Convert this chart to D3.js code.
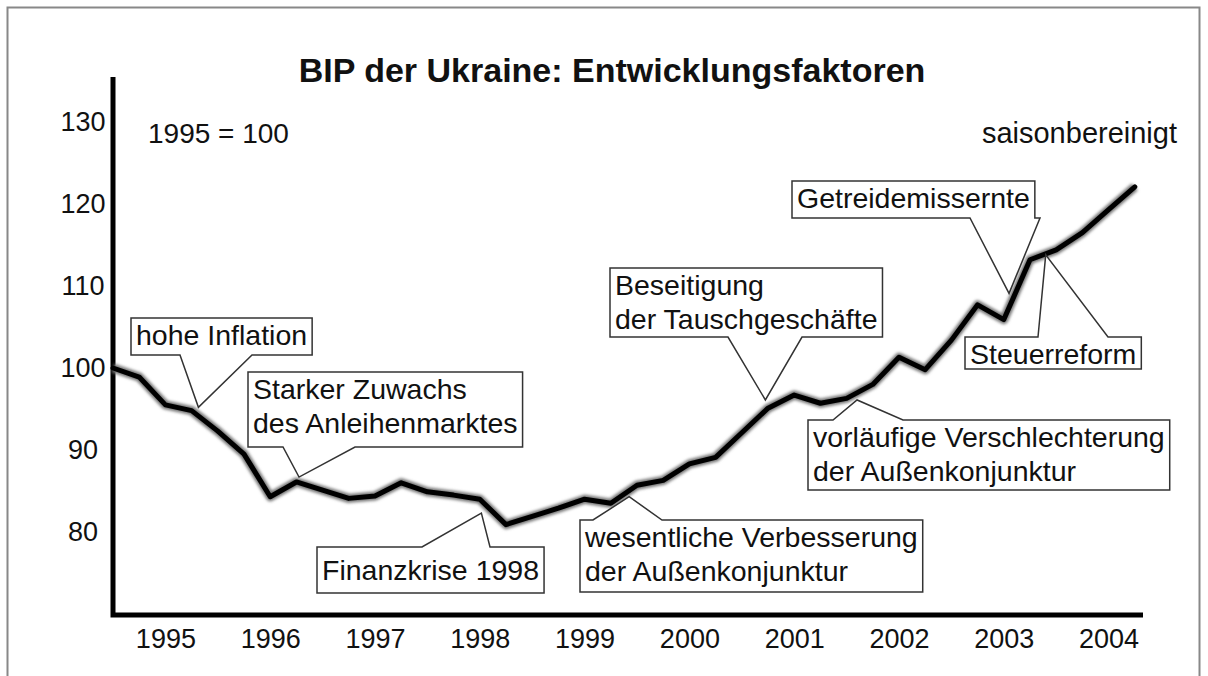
<!DOCTYPE html>
<html>
<head>
<meta charset="utf-8">
<script src="https://cdn.jsdelivr.net/npm/d3@7"></script>
<style>
  body { margin: 0; background: #fff; }
  svg text { font-family: "Liberation Sans", Arial, sans-serif; fill: #111; }
</style>
</head>
<body>
<svg id="chart" width="1208" height="676"></svg>
<script>
// BIP der Ukraine, quarterly, 1995 = 100
const years = ["1995", "1996", "1997", "1998", "1999", "2000", "2001", "2002", "2003", "2004"];
const gdpIndex = [
    100.0, 98.9, 95.5, 94.8,
    92.3, 89.5, 84.3, 86.1,
    85.1, 84.1, 84.4, 86.0,
    84.9, 84.5, 84.0, 80.9,
    81.9, 82.9, 84.0, 83.5,
    85.7, 86.3, 88.3, 89.1,
    92.1, 95.1, 96.7, 95.7,
    96.3, 98.0, 101.3, 99.8,
    103.4, 107.7, 105.9, 113.2,
    114.4, 116.5, 119.3, 122.1
];
const yTicks = [80, 90, 100, 110, 120, 130];

// annotation texts and where they point (quarter index, index value)
const noteTexts = [
    ["hohe Inflation"],
    ["Starker Zuwachs", "des Anleihenmarktes"],
    ["Finanzkrise 1998"],
    ["wesentliche Verbesserung", "der Außenkonjunktur"],
    ["Beseitigung", "der Tauschgeschäfte"],
    ["vorläufige Verschlechterung", "der Außenkonjunktur"],
    ["Getreidemissernte"],
    ["Steuerreform"]
];
const noteTargets = [
    [3.26, 95.2], [7.1, 86.7], [14.06, 82.3], [19.7, 84.3],
    [24.9, 96.1], [28.4, 96.1], [34.2, 109.1], [35.6, 113.8]
];

// box layout: left, top, height, side of the wedge, wedge base x0/x1
const noteBoxes = [
    {x: 131, y: 318, h: 37, side: "bottom", b0: 180, b1: 252},
    {x: 248, y: 372, h: 75, side: "bottom", b0: 283, b1: 355},
    {x: 317, y: 547, h: 46, side: "top", b0: 422, b1: 490},
    {x: 580, y: 520, h: 72, side: "top", b0: 593, b1: 662},
    {x: 610, y: 268, h: 69, side: "bottom", b0: 728, b1: 802},
    {x: 808, y: 420, h: 70, side: "top", b0: 833, b1: 903},
    {x: 792, y: 181, h: 37, side: "bottom", b0: 970, b1: 1040},
    {x: 965, y: 337, h: 32, side: "top", b0: 1038, b1: 1108}
];

const svg = d3.select("#chart");

// outer frame
svg.append("rect")
    .attr("x", 7.5).attr("y", 7.5)
    .attr("width", 1192).attr("height", 700)
    .attr("fill", "none").attr("stroke", "#888").attr("stroke-width", 2);

const x = d3.scaleLinear().domain([0, 40]).range([113, 113 + 40 * 26.2]);
const y = d3.scaleLinear().domain([80, 130]).range([532, 122]);

const x0 = 113, yBase = 615;

// title
svg.append("text")
    .attr("x", 612).attr("y", 82)
    .attr("text-anchor", "middle")
    .attr("font-size", 34).attr("font-weight", "bold")
    .text("BIP der Ukraine: Entwicklungsfaktoren");

svg.append("text").attr("x", 148).attr("y", 143)
    .attr("font-size", 28).text("1995 = 100");
svg.append("text").attr("x", 1177).attr("y", 143)
    .attr("text-anchor", "end")
    .attr("font-size", 29).text("saisonbereinigt");

// y axis labels
const yAxis = svg.append("g")
    .attr("transform", "translate(" + x0 + ",0)")
    .call(d3.axisLeft(y).tickValues(yTicks).tickSize(0).tickFormat(d3.format("d")));
yAxis.select(".domain").remove();
yAxis.selectAll("text")
    .attr("x", -30).attr("text-anchor", "middle")
    .attr("font-size", 27).attr("font-family", null)
    .attr("fill", "#111");

// x axis labels at mid-year
const xAxis = svg.append("g")
    .attr("transform", "translate(0," + yBase + ")")
    .call(d3.axisBottom(x).tickValues(years.map((d, i) => i * 4 + 2))
        .tickSize(0).tickFormat((d, i) => years[i]));
xAxis.select(".domain").remove();
xAxis.selectAll("text")
    .attr("y", 33).attr("dy", 0)
    .attr("font-size", 27).attr("font-family", null)
    .attr("fill", "#111");

// axis lines
svg.append("path")
    .attr("d", "M" + x0 + ",77 L" + x0 + "," + yBase + " L1143," + yBase)
    .attr("fill", "none").attr("stroke", "#000").attr("stroke-width", 5);

// soft shadow filter for the series
const defs = svg.append("defs");
defs.append("filter").attr("id", "soft")
    .attr("x", "-5%").attr("y", "-5%").attr("width", "110%").attr("height", "110%")
    .append("feGaussianBlur").attr("stdDeviation", 1.6);

const line = d3.line()
    .x((d, i) => x(i))
    .y(d => y(d));

svg.append("path")
    .datum(gdpIndex)
    .attr("d", line)
    .attr("fill", "none").attr("stroke", "#777").attr("stroke-width", 9)
    .attr("stroke-linejoin", "round")
    .attr("filter", "url(#soft)");

svg.append("path")
    .datum(gdpIndex)
    .attr("d", line)
    .attr("fill", "none").attr("stroke", "#000").attr("stroke-width", 5)
    .attr("stroke-linejoin", "round").attr("stroke-linecap", "round");

// callouts
const notes = svg.append("g");
noteTexts.forEach((lines, k) => {
    const b = noteBoxes[k];
    const g = notes.append("g");
    const shape = g.append("path");
    const txt = g.append("text").attr("font-size", 28.5);
    const first = lines.length === 1 ? (b.h >= 44 ? 33 : 27) : 27;
    lines.forEach((s, j) => {
        txt.append("tspan").attr("x", b.x + 5).attr("y", b.y + first + j * 34).text(s);
    });
    const w = d3.max(txt.selectAll("tspan").nodes(), n => n.getComputedTextLength()) + 10;
    const r = b.x + w, btm = b.y + b.h;
    const tx = x(noteTargets[k][0]), ty = y(noteTargets[k][1]);
    let d;
    if (b.side === "top") {
        d = `M${b.x},${b.y} L${b.b0},${b.y} L${tx},${ty} L${b.b1},${b.y} L${r},${b.y} L${r},${btm} L${b.x},${btm} Z`;
    } else {
        d = `M${b.x},${b.y} L${r},${b.y} L${r},${btm} L${b.b1},${btm} L${tx},${ty} L${b.b0},${btm} L${b.x},${btm} Z`;
    }
    shape.attr("d", d).attr("fill", "#fff").attr("stroke", "#333").attr("stroke-width", 1.5);
});
</script>
</body>
</html>
